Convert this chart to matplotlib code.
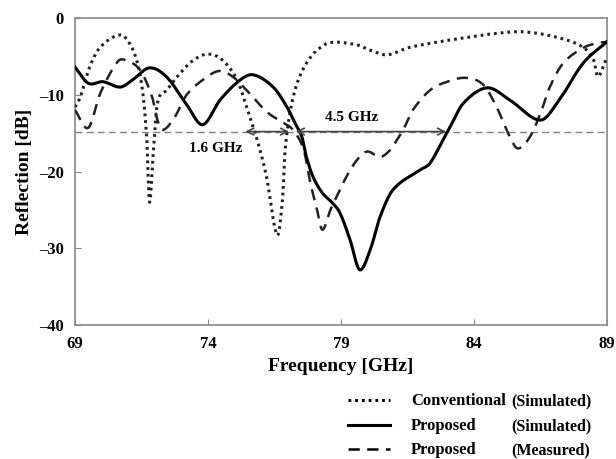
import matplotlib
matplotlib.use("Agg")
import matplotlib.pyplot as plt
import numpy as np
from matplotlib.lines import Line2D

plt.rcParams["font.family"] = ["Liberation Serif", "DejaVu Serif"]
plt.rcParams["font.weight"] = "bold"

# 反射系数曲线 (频率 GHz, 反射 dB)
conv_f = [69.0, 69.2, 69.55, 69.95, 70.7, 71.05, 71.35, 71.55, 71.7, 71.8, 71.95,
          72.1, 72.45, 72.95, 73.45, 74.0, 74.55, 75.1, 75.45, 75.85, 76.2, 76.6,
          76.8, 76.9, 77.1, 77.35, 77.7, 78.1, 78.6, 79.6, 80.1, 80.73, 81.5, 82.35,
          83.6, 84.85, 85.85, 87.1, 88.1, 88.5, 88.65, 88.85, 89.0]
conv_db = [-11.6, -10.3, -6.4, -3.8, -2.2, -3.3, -5.9, -9.8, -15.9, -24.0, -17.2,
           -11.1, -9.4, -7.2, -5.5, -4.7, -5.5, -8.1, -11.6, -15.9, -20.7, -28.3,
           -23.7, -17.2, -12.0, -8.5, -5.9, -4.2, -3.2, -3.5, -4.2, -4.8, -3.9, -3.3,
           -2.6, -2.0, -1.8, -2.5, -3.8, -5.5, -7.6, -6.4, -5.0]

sim_f = [69.0, 69.5, 70.05, 70.7, 71.15, 71.8, 72.45, 73.2, 73.8, 74.45, 75.2, 75.7,
         76.45, 76.97, 77.27, 77.53, 77.7, 77.95, 78.3, 78.65, 78.96, 79.34, 79.7,
         80.1, 80.47, 80.95, 81.97, 82.35, 82.83, 83.1, 83.6, 84.5, 85.35, 86.5,
         87.2, 88.1, 89.0]
sim_db = [-6.4, -8.5, -8.3, -9.0, -8.1, -6.5, -7.7, -11.3, -13.9, -10.7, -8.1, -7.4,
          -9.0, -11.6, -13.7, -15.5, -18.1, -20.7, -22.8, -24.0, -25.4, -28.9, -32.8,
          -30.2, -25.9, -22.4, -19.8, -18.9, -15.9, -14.2, -11.1, -9.1, -10.7, -13.3,
          -10.7, -5.9, -3.1]

meas_f = [69.0, 69.5, 69.95, 70.6, 70.9, 71.45, 71.9, 72.1, 72.3, 72.75, 73.2,
          73.95, 74.45, 74.95, 75.45, 76.2, 76.8, 77.2, 77.6, 77.85, 78.1, 78.3,
          78.6, 78.96, 79.2, 79.6, 79.98, 80.47, 80.85, 81.1, 81.35, 81.7,
          82.35, 83.0, 83.7, 84.35, 84.85, 85.35, 85.65, 86.1, 86.5, 86.85, 87.35,
          88.1, 88.6, 89.0]
meas_db = [-12.0, -14.3, -9.8, -5.7, -5.5, -6.8, -10.3, -13.3, -14.6, -12.9, -10.0,
           -7.7, -6.9, -7.7, -9.4, -12.2, -13.6, -14.6, -17.2, -21.5, -25.0, -27.6,
           -25.0, -22.4, -20.7, -18.5, -17.4, -18.1, -17.2, -15.9, -14.5, -12.0,
           -9.4, -8.3, -7.8, -8.7, -11.6, -15.5, -17.0, -15.5, -12.4, -9.0, -5.9,
           -3.9, -3.3, -3.1]

# 带宽标注
threshold_db = -14.8
band_conv = (75.4, 77.05, "1.6 GHz")
band_prop = (77.3, 82.95, "4.5 GHz")


def smooth(xs, ys, n=800):
    # Catmull-Rom 型三次 Hermite 插值，让曲线圆滑
    xs = np.asarray(xs, float)
    ys = np.asarray(ys, float)
    h = np.diff(xs)
    d = np.diff(ys) / h
    m = np.empty_like(ys)
    m[0], m[-1] = d[0], d[-1]
    m[1:-1] = (ys[2:] - ys[:-2]) / (xs[2:] - xs[:-2])
    xn = np.linspace(xs[0], xs[-1], n)
    k = np.clip(np.searchsorted(xs, xn) - 1, 0, len(xs) - 2)
    t = (xn - xs[k]) / h[k]
    h00 = 2 * t**3 - 3 * t**2 + 1
    h10 = t**3 - 2 * t**2 + t
    h01 = -2 * t**3 + 3 * t**2
    h11 = t**3 - t**2
    yn = h00 * ys[k] + h10 * h[k] * m[k] + h01 * ys[k + 1] + h11 * h[k] * m[k + 1]
    return xn, yn


DOT = (0, (0.9, 1.3))
DASH = (0, (4.5, 3.0))

fig = plt.figure(figsize=(6.16, 4.59), dpi=100)
ax = fig.add_axes([75 / 616, 1 - 325 / 459, 532 / 616, 307 / 459])

ax.axhline(threshold_db, color="#808080", lw=1.0, ls=(0, (5, 3)), zorder=1)

x, y = smooth(conv_f, conv_db)
ax.plot(x, y, color="#222222", lw=2.2, ls=DOT, zorder=3)
x, y = smooth(sim_f, sim_db)
ax.plot(x, y, color="black", lw=2.2, ls="-", zorder=4)
x, y = smooth(meas_f, meas_db)
ax.plot(x, y, color="#222222", lw=1.8, ls=DASH, zorder=3)

for x0, x1, label in (band_conv, band_prop):
    ax.annotate("", xy=(x0, threshold_db), xytext=(x1, threshold_db),
                arrowprops=dict(arrowstyle="<->", color="#444444", lw=1.2,
                                shrinkA=0, shrinkB=0, mutation_scale=12), zorder=5)
ax.text(74.3, -17.0, band_conv[2], fontsize=11, ha="center", va="center")
ax.text(79.4, -12.9, band_prop[2], fontsize=11, ha="center", va="center")

ax.set_xlim(69, 89)
ax.set_ylim(-40, 0)
ax.set_xticks([69, 74, 79, 84, 89])
ax.set_yticks([0, -10, -20, -30, -40])
ax.set_yticklabels(["0", "\u201310", "\u201320", "\u201330", "\u201340"])
ax.tick_params(direction="in", length=4, color="#888888", labelsize=12, pad=8)
for s in ax.spines.values():
    s.set_color("#888888")
    s.set_linewidth(1.2)

ax.set_xlabel("Frequency [GHz]", fontsize=14, fontweight="bold", labelpad=4)
ax.set_ylabel("Reflection [dB]", fontsize=14, fontweight="bold", labelpad=4)

# 图例
legend_rows = [
    (DOT, 2.2, "Conventional", "(Simulated)"),
    ("-", 2.2, "Proposed", "(Simulated)"),
    (DASH, 1.8, "Proposed", "(Measured)"),
]
row_y = [400, 425, 449]
for (ls, lw, name, kind), py in zip(legend_rows, row_y):
    yy = 1 - py / 459
    yb = 1 - (py + 5) / 459
    fig.add_artist(Line2D([348 / 616, 390 / 616], [yy, yy], color="black",
                          ls=ls, lw=lw, transform=fig.transFigure))
    fig.text(411 / 616, yb, name, fontsize=12, va="baseline", ha="left")
    fig.text(511 / 616, yb, kind, fontsize=11.5, va="baseline", ha="left")

fig.savefig("out.png", dpi=100)
